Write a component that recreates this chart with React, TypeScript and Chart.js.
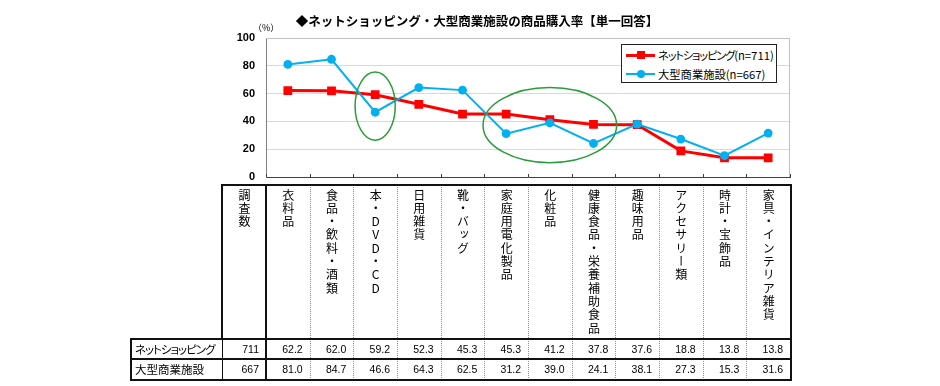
import React, { useEffect, useRef } from "react";
import { Chart, registerables } from "chart.js";

Chart.register(...registerables);

// ---------- data ----------
const chartTitle = "◆ネットショッピング・大型商業施設の商品購入率【単一回答】";
const unitLabel = "（%）";
const categories = [
  "衣料品",
  "食品・飲料・酒類",
  "本・DVD・CD",
  "日用雑貨",
  "靴・バッグ",
  "家庭用電化製品",
  "化粧品",
  "健康食品・栄養補助食品",
  "趣味用品",
  "アクセサリー類",
  "時計・宝飾品",
  "家具・インテリア雑貨",
];
const seriesNames = ["ネットショッピング", "大型商業施設"];
const sampleHeader = "調査数";
const sampleSizes = [711, 667];
const netShopping = [62.2, 62.0, 59.2, 52.3, 45.3, 45.3, 41.2, 37.8, 37.6, 18.8, 13.8, 13.8];
const largeFacility = [81.0, 84.7, 46.6, 64.3, 62.5, 31.2, 39.0, 24.1, 38.1, 27.3, 15.3, 31.6];
const yTickValues = [0, 20, 40, 60, 80, 100];
// highlighted regions (data units): category index, value centre, half-width in categories, half-height in value
const highlightCategory = [2, 6];
const highlightValue = [51.0, 37.3];
const highlightHalfCategories = [0.46, 1.53];
const highlightHalfValues = [24.5, 27.0];

// ---------- layout ----------
const W = 940;
const H = 386;
const PLOT_L = 266;
const PLOT_R = 790;
const PLOT_T = 38;
const PLOT_B = 177;
const TABLE_LABEL_L = 131;
const TABLE_SAMPLE_L = 222;
const HEADER_T = 185;
const HEADER_B = 339;
const ROW1_B = 359;
const ROW2_B = 380;

const RED = "#ff0000";
const BLUE = "#00b0f0";
const GREEN = "#2a9d3a";
const JP = '"Noto Sans CJK JP", "Noto Sans", sans-serif';
const NUM = '"Liberation Sans", Arial, sans-serif';

const framePlugin = {
  id: "frame",
  beforeDatasetsDraw(chart: any) {
    const { ctx, chartArea } = chart;
    const x = chart.scales.x;
    ctx.save();
    ctx.strokeStyle = "#c0c0c0";
    ctx.lineWidth = 1;
    ctx.beginPath();
    ctx.moveTo(chartArea.left, chartArea.top + 0.5);
    ctx.lineTo(chartArea.right - 0.5, chartArea.top + 0.5);
    ctx.lineTo(chartArea.right - 0.5, chartArea.bottom);
    ctx.stroke();
    ctx.strokeStyle = "#404040";
    ctx.beginPath();
    const n = categories.length;
    const cw = x.getPixelForValue(1) - x.getPixelForValue(0);
    for (let i = 0; i <= n; i++) {
      const px = i < n ? x.getPixelForValue(i) - cw / 2 : x.getPixelForValue(n - 1) + cw / 2;
      const rx = Math.round(px) + 0.5;
      ctx.moveTo(rx, chartArea.bottom - 3);
      ctx.lineTo(rx, chartArea.bottom);
    }
    ctx.stroke();
    ctx.restore();
  },
};

const highlightPlugin = {
  id: "highlight",
  afterDatasetsDraw(chart: any) {
    const { ctx } = chart;
    const x = chart.scales.x;
    const y = chart.scales.y;
    const cw = x.getPixelForValue(1) - x.getPixelForValue(0);
    const vu = Math.abs(y.getPixelForValue(0) - y.getPixelForValue(1));
    ctx.save();
    ctx.strokeStyle = GREEN;
    ctx.lineWidth = 1.5;
    highlightCategory.forEach((c, i) => {
      ctx.beginPath();
      ctx.ellipse(
        x.getPixelForValue(c),
        y.getPixelForValue(highlightValue[i]),
        highlightHalfCategories[i] * cw,
        highlightHalfValues[i] * vu,
        0,
        0,
        Math.PI * 2
      );
      ctx.stroke();
    });
    ctx.restore();
  },
};

function ChartCanvas() {
  const ref = useRef<HTMLCanvasElement | null>(null);
  useEffect(() => {
    if (!ref.current) return;
    const chart = new Chart(ref.current, {
      type: "line",
      data: {
        labels: categories,
        datasets: [
          {
            label: `${seriesNames[0]}(n=${sampleSizes[0]})`,
            data: netShopping,
            borderColor: RED,
            backgroundColor: RED,
            borderWidth: 3,
            pointStyle: "rect",
            pointRadius: 6.2,
            pointBorderWidth: 0,
            pointBackgroundColor: RED,
            tension: 0,
            order: 2,
          },
          {
            label: `${seriesNames[1]}(n=${sampleSizes[1]})`,
            data: largeFacility,
            borderColor: BLUE,
            backgroundColor: BLUE,
            borderWidth: 2,
            pointStyle: "circle",
            pointRadius: 4.4,
            pointBorderWidth: 0,
            pointBackgroundColor: BLUE,
            tension: 0,
            order: 1,
          },
        ],
      },
      options: {
        responsive: false,
        animation: false,
        events: [],
        layout: { padding: { left: 0, top: PLOT_T, right: W - PLOT_R, bottom: H - PLOT_B } },
        plugins: {
          legend: { display: false },
          title: { display: false },
          tooltip: { enabled: false },
        },
        scales: {
          x: {
            type: "category",
            offset: true,
            ticks: { display: false },
            grid: { display: false },
            border: { display: true, color: "#404040", width: 1 },
            afterFit: (s: any) => {
              s.height = 0;
            },
          },
          y: {
            min: 0,
            max: 100,
            afterBuildTicks: (s: any) => {
              s.ticks = yTickValues.map((v) => ({ value: v }));
            },
            ticks: {
              color: "#000",
              padding: 11,
              font: { family: NUM, size: 11, weight: "bold" },
            },
            grid: { color: "#d9d9d9", lineWidth: 1, drawTicks: false },
            border: { display: true, color: "#808080", width: 1 },
            afterFit: (s: any) => {
              s.width = PLOT_L;
            },
          },
        },
      },
      plugins: [framePlugin, highlightPlugin],
    } as any);
    return () => chart.destroy();
  }, []);
  return (
    <canvas
      ref={ref}
      width={W}
      height={H}
      style={{ position: "absolute", left: 0, top: 0, width: W, height: H }}
    />
  );
}

// Narrows katakana runs (the reference uses a proportional Japanese font)
function Tight({ text, spacing }: { text: string; spacing: number }) {
  const parts = text.match(/[\u30A0-\u30FF]+|[^\u30A0-\u30FF]+/g) || [];
  return (
    <>
      {parts.map((p, i) =>
        /[\u30A0-\u30FF]/.test(p) ? (
          <span key={i} style={{ letterSpacing: `${spacing}px` }}>
            {p}
          </span>
        ) : (
          <span key={i}>{p}</span>
        )
      )}
    </>
  );
}

function HLine({ x1, x2, y, w = 2, color = "#111" }: any) {
  return (
    <div
      style={{
        position: "absolute",
        left: x1,
        top: y - w / 2,
        width: x2 - x1,
        height: w,
        background: color,
      }}
    />
  );
}

function VLine({ x, y1, y2, w = 2, color = "#111", dotted = false }: any) {
  if (dotted) {
    return (
      <div
        style={{
          position: "absolute",
          left: x,
          top: y1,
          height: y2 - y1,
          width: 0,
          borderLeft: "1px dotted #8a8a8a",
        }}
      />
    );
  }
  return (
    <div
      style={{
        position: "absolute",
        left: x - w / 2,
        top: y1,
        width: w,
        height: y2 - y1,
        background: color,
      }}
    />
  );
}

function VerticalHeader({ left, width, text }: any) {
  return (
    <div
      style={{
        position: "absolute",
        left,
        top: HEADER_T + 4,
        width,
        display: "flex",
        justifyContent: "center",
      }}
    >
      <span
        style={{
          writingMode: "vertical-rl",
          textOrientation: "upright",
          fontFamily: JP,
          fontSize: 12,
          letterSpacing: "1.3px",
          lineHeight: "14px",
          color: "#000",
          whiteSpace: "nowrap",
        }}
      >
        {text}
      </span>
    </div>
  );
}

function NumCell({ left, width, top, height, text }: any) {
  return (
    <div
      style={{
        position: "absolute",
        left,
        top,
        width: width - 7,
        height,
        lineHeight: `${height}px`,
        textAlign: "right",
        fontFamily: NUM,
        fontSize: 10.5,
        color: "#000",
        whiteSpace: "nowrap",
      }}
    >
      {text}
    </div>
  );
}

function Table() {
  const n = categories.length;
  const colW = (PLOT_R - PLOT_L) / n;
  const colLeft = (i: number) => PLOT_L + i * colW;
  const rows = [netShopping, largeFacility];
  const rowTops = [HEADER_B, ROW1_B];
  const rowHeights = [ROW1_B - HEADER_B, ROW2_B - ROW1_B];
  const els: any[] = [];

  els.push(
    <VerticalHeader key="hs" left={TABLE_SAMPLE_L} width={PLOT_L - TABLE_SAMPLE_L} text={sampleHeader} />
  );
  categories.forEach((c, i) => {
    els.push(<VerticalHeader key={"h" + i} left={colLeft(i)} width={colW} text={c} />);
  });

  rows.forEach((vals, r) => {
    els.push(
      <div
        key={"rl" + r}
        style={{
          position: "absolute",
          left: TABLE_LABEL_L + 4,
          top: rowTops[r],
          height: rowHeights[r],
          lineHeight: `${rowHeights[r]}px`,
          fontFamily: JP,
          fontSize: 11.5,
          fontFeatureSettings: '"palt" 1',
          color: "#000",
          whiteSpace: "nowrap",
        }}
      >
        <Tight text={seriesNames[r]} spacing={-1} />
      </div>
    );
    els.push(
      <NumCell
        key={"rs" + r}
        left={TABLE_SAMPLE_L}
        width={PLOT_L - TABLE_SAMPLE_L}
        top={rowTops[r]}
        height={rowHeights[r]}
        text={String(sampleSizes[r])}
      />
    );
    vals.forEach((v, i) => {
      els.push(
        <NumCell
          key={"r" + r + "c" + i}
          left={colLeft(i)}
          width={colW}
          top={rowTops[r]}
          height={rowHeights[r]}
          text={v.toFixed(1)}
        />
      );
    });
  });

  for (let i = 1; i < n; i++) {
    els.push(<VLine key={"d" + i} x={Math.round(colLeft(i))} y1={HEADER_T} y2={ROW2_B} dotted />);
  }
  els.push(<VLine key="vs1" x={PLOT_L} y1={HEADER_T} y2={ROW2_B} w={2} />);
  els.push(<VLine key="vs0" x={TABLE_SAMPLE_L} y1={HEADER_T} y2={HEADER_B} w={2} />);
  els.push(<VLine key="vs0b" x={TABLE_SAMPLE_L} y1={HEADER_B} y2={ROW2_B} w={1} />);
  els.push(<VLine key="vl" x={TABLE_LABEL_L} y1={HEADER_B - 1} y2={ROW2_B + 1} w={2} />);
  els.push(<VLine key="vr" x={PLOT_R + 1} y1={HEADER_T - 1} y2={ROW2_B + 1} w={2} />);
  els.push(<HLine key="ht" x1={TABLE_SAMPLE_L - 1} x2={PLOT_R + 2} y={HEADER_T} />);
  els.push(<HLine key="hb" x1={TABLE_LABEL_L - 1} x2={PLOT_R + 2} y={HEADER_B} />);
  els.push(<HLine key="h1" x1={TABLE_LABEL_L - 1} x2={PLOT_R + 2} y={ROW1_B} />);
  els.push(<HLine key="h2" x1={TABLE_LABEL_L - 1} x2={PLOT_R + 2} y={ROW2_B} />);
  return <>{els}</>;
}

function Legend() {
  const items = [
    { name: seriesNames[0], n: sampleSizes[0], color: RED, lw: 3, marker: "rect" },
    { name: seriesNames[1], n: sampleSizes[1], color: BLUE, lw: 2, marker: "circle" },
  ];
  return (
    <div
      style={{
        position: "absolute",
        left: 621,
        top: 44,
        width: 156,
        height: 39,
        boxSizing: "border-box",
        border: "1px solid #222",
        background: "#fff",
      }}
    >
      {items.map((it, i) => (
        <div
          key={i}
          style={{
            position: "absolute",
            left: 0,
            top: 2 + i * 18.5,
            height: 16,
            width: "100%",
          }}
        >
          <div
            style={{
              position: "absolute",
              left: 4,
              top: 8 - it.lw / 2,
              width: 29,
              height: it.lw,
              background: it.color,
            }}
          />
          <div
            style={{
              position: "absolute",
              left: 14.5,
              top: 4,
              width: 8,
              height: 8,
              background: it.color,
              borderRadius: it.marker === "circle" ? "50%" : 0,
            }}
          />
          <div
            style={{
              position: "absolute",
              left: 36,
              top: 0,
              height: 16,
              lineHeight: "16px",
              fontFamily: JP,
              fontSize: 11.3,
              fontFeatureSettings: '"palt" 1',
              color: "#000",
              whiteSpace: "nowrap",
            }}
          >
            <Tight text={`${it.name}(n=${it.n})`} spacing={-1.2} />
          </div>
        </div>
      ))}
    </div>
  );
}

export default function App() {
  return (
    <div
      style={{
        position: "absolute",
        left: 0,
        top: 0,
        width: W,
        height: H,
        background: "#fff",
        overflow: "hidden",
      }}
    >
      <ChartCanvas />
      <div
        style={{
          position: "absolute",
          left: 177,
          top: 12,
          width: 600,
          textAlign: "center",
          fontFamily: JP,
          fontWeight: "bold",
          fontSize: 12.5,
          lineHeight: "18px",
          color: "#000",
          whiteSpace: "nowrap",
        }}
      >
        {chartTitle}
      </div>
      <div
        style={{
          position: "absolute",
          left: 253,
          top: 22,
          fontFamily: JP,
          fontSize: 9,
          lineHeight: "12px",
          color: "#000",
          whiteSpace: "nowrap",
        }}
      >
        {unitLabel}
      </div>
      <Legend />
      <Table />
    </div>
  );
}
